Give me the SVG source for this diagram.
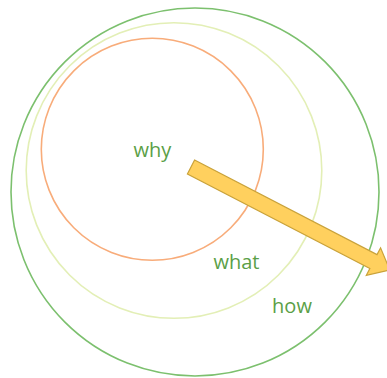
<svg xmlns="http://www.w3.org/2000/svg" width="387" height="378" viewBox="0 0 387 378">
<style>
.ring{fill:none;stroke-width:1.6}
.lbl{font-family:"Open Sans","Liberation Sans",sans-serif;font-size:20px;fill:#5B9F47;text-anchor:middle}
.arrow{fill:#FFD05E;stroke:#C9A23A;stroke-width:1.2;stroke-linejoin:miter}
</style>
<rect width="387" height="378" fill="#ffffff"/>
<g id="ring-how">
<circle class="ring" cx="195" cy="192" r="184" stroke="#7CC06E"/>
<text class="lbl" x="292" y="313">how</text>
</g>
<g id="ring-what">
<circle class="ring" cx="174" cy="170.5" r="147.8" stroke="#E3EFB6"/>
<text class="lbl" x="236.5" y="269">what</text>
</g>
<g id="ring-why">
<circle class="ring" cx="152.3" cy="149.3" r="111" stroke="#F8AC7A"/>
<text class="lbl" x="152.3" y="157">why</text>
</g>
<g id="connectors">
<polygon class="arrow" transform="translate(191,167) rotate(27.4)" points="0,-7.8 205.5,-7.8 205.5,-15.5 224,0 205.5,15.5 205.5,7.8 0,7.8"/>
</g>
</svg>
